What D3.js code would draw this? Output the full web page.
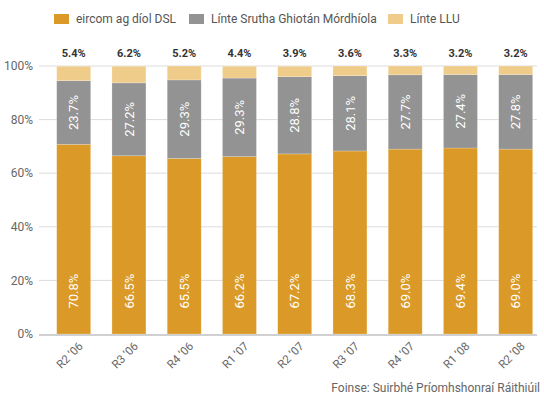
<!DOCTYPE html>
<html>
<head>
<meta charset="utf-8">
<script src="https://cdn.jsdelivr.net/npm/d3@7/dist/d3.min.js"></script>
<style>
  body { margin: 0; background: #fff; }
  text { font-family: Roboto, "DejaVu Sans", sans-serif; }
</style>
</head>
<body>
<div id="chart"></div>
<script>
const categories = ['R2 ’06', 'R3 ’06', 'R4 ’06', 'R1 ’07', 'R2 ’07', 'R3 ’07', 'R4 ’07', 'R1 ’08', 'R2 ’08'];
const dslValues = [70.8, 66.5, 65.5, 66.2, 67.2, 68.3, 69.0, 69.4, 69.0];
const bitstreamValues = [23.7, 27.2, 29.3, 29.3, 28.8, 28.1, 27.7, 27.4, 27.8];
const lluValues = [5.4, 6.2, 5.2, 4.4, 3.9, 3.6, 3.3, 3.2, 3.2];
const yTicks = [0, 20, 40, 60, 80, 100];
const seriesNames = ['eircom ag díol DSL', 'Línte Srutha Ghiotán Mórdhíola', 'Línte LLU'];
const colours = ['#db9a27', '#939393', '#f0cc8a'];
const source = 'Foinse: Suirbhé Príomhshonraí Ráithiúil';

const width = 544;
const height = 403;
const dim = { left: 39, right: 537, top: 66, bottom: 334 };

const svg = d3.select('#chart').append('svg')
  .attr('width', width)
  .attr('height', height);

const x = d3.scaleBand()
  .domain(categories)
  .range([46.1, 543.3])
  .paddingInner(0.385)
  .paddingOuter(0.192);

const y = d3.scaleLinear()
  .domain([0, 100])
  .range([dim.bottom, dim.top]);

// gridlines + y labels
svg.append('g')
  .selectAll('line')
  .data(yTicks.filter(t => t > 0))
  .enter().append('line')
  .attr('x1', dim.left)
  .attr('x2', dim.right)
  .attr('y1', d => y(d))
  .attr('y2', d => y(d))
  .style('stroke', '#dcdcdc')
  .style('stroke-width', 1);

svg.append('g')
  .selectAll('text')
  .data(yTicks)
  .enter().append('text')
  .attr('x', 33)
  .attr('y', d => y(d))
  .attr('dy', '0.35em')
  .attr('text-anchor', 'end')
  .style('font-size', '12px')
  .style('fill', '#666')
  .text(d => `${d}%`);

// stacked bars
const rows = categories.map((c, i) => ({ cat: c, s0: dslValues[i], s1: bitstreamValues[i], s2: lluValues[i] }));
const stack = d3.stack().keys(['s0', 's1', 's2'])(rows);

stack.forEach((layer, li) => {
  const g = svg.append('g').attr('class', `series${li}`);
  g.selectAll('rect')
    .data(layer)
    .enter().append('rect')
    .attr('x', d => x(d.data.cat))
    .attr('width', x.bandwidth())
    .attr('y', d => y(d[1]))
    .attr('height', d => y(d[0]) - y(d[1]))
    .style('fill', colours[li])
    .style('stroke', '#fff')
    .style('stroke-opacity', 0.35)
    .style('stroke-width', 0.6);

  if (li < 2) {
    g.selectAll('text')
      .data(layer)
      .enter().append('text')
      .attr('transform', d => {
        const cx = x(d.data.cat) + x.bandwidth() / 2;
        const cy = li === 0 ? y(16) : (y(d[0]) + y(d[1])) / 2;
        return `translate(${cx}, ${cy}) rotate(-90)`;
      })
      .attr('text-anchor', 'middle')
      .attr('dy', '0.36em')
      .style('font-size', '13px')
      .style('fill', '#fff')
      .text(d => `${(d[1] - d[0]).toFixed(1)}%`);
  }
});

// LLU labels above the bars
svg.append('g')
  .selectAll('text')
  .data(rows)
  .enter().append('text')
  .attr('x', d => x(d.cat) + x.bandwidth() / 2)
  .attr('y', 57)
  .attr('text-anchor', 'middle')
  .style('font-size', '11px')
  .style('font-weight', 'bold')
  .style('fill', '#333')
  .text(d => `${d.s2.toFixed(1)}%`);

// baseline
svg.append('line')
  .attr('x1', dim.left)
  .attr('x2', dim.right)
  .attr('y1', y(0) + 1)
  .attr('y2', y(0) + 1)
  .style('stroke', '#d0d0d0')
  .style('stroke-width', 2);

// x labels
svg.append('g')
  .selectAll('text')
  .data(categories)
  .enter().append('text')
  .attr('transform', d => `translate(${x(d) + x.bandwidth() / 2 + 7}, 344) rotate(-45)`)
  .attr('text-anchor', 'end')
  .attr('dy', '0.35em')
  .style('font-size', '11.5px')
  .style('fill', '#666')
  .text(d => d);

// legend
const legendX = [54, 189, 388];
const legend = svg.append('g')
  .selectAll('g')
  .data(seriesNames)
  .enter().append('g')
  .attr('transform', (d, i) => `translate(${legendX[i]}, 14)`);

legend.append('rect')
  .attr('width', 15)
  .attr('height', 10)
  .style('fill', (d, i) => colours[i]);

legend.append('text')
  .attr('x', 22)
  .attr('y', 5)
  .attr('dy', '0.35em')
  .style('font-size', '12px')
  .style('fill', '#555')
  .text(d => d);

// source
svg.append('text')
  .attr('x', 540)
  .attr('y', 392)
  .attr('text-anchor', 'end')
  .style('font-size', '12px')
  .style('fill', '#666')
  .text(source);
</script>
</body>
</html>
